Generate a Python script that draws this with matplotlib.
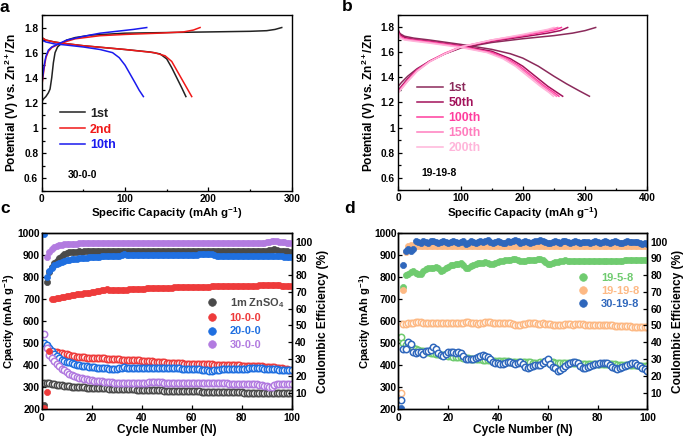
import numpy as np
import matplotlib
matplotlib.use("Agg")
import matplotlib.pyplot as plt
from matplotlib.ticker import MultipleLocator, FuncFormatter

plt.rcParams["font.family"] = ["Liberation Sans", "DejaVu Sans"]
plt.rcParams["font.weight"] = "bold"
plt.rcParams["axes.labelweight"] = "bold"
plt.rcParams["mathtext.fontset"] = "custom"
plt.rcParams["mathtext.rm"] = "Liberation Sans:bold"
plt.rcParams["mathtext.bf"] = "Liberation Sans:bold"
plt.rcParams["mathtext.it"] = "Liberation Sans:bold:italic"

# ---------------- panel a : 30-0-0 charge / discharge ----------------
a_labels = ["1st", "2nd", "10th"]
a_colors = ["#222222", "#f01818", "#1a1aee"]
a_chg_x = [
    [0, 2, 5, 8, 10, 12, 14, 16, 19, 23, 30, 40, 60, 100, 150, 200, 250, 270, 280, 288],
    [0, 1, 3, 5, 8, 12, 18, 25, 40, 70, 100, 140, 170, 182, 190],
    [0, 1, 3, 5, 8, 12, 20, 30, 50, 70, 90, 110, 126],
]
a_chg_y = [
    [1.21, 1.23, 1.25, 1.28, 1.31, 1.40, 1.52, 1.60, 1.645, 1.67, 1.70, 1.72, 1.74, 1.755, 1.76, 1.765, 1.77, 1.775, 1.785, 1.80],
    [1.33, 1.38, 1.48, 1.56, 1.61, 1.64, 1.66, 1.68, 1.71, 1.735, 1.745, 1.755, 1.765, 1.78, 1.80],
    [1.33, 1.40, 1.50, 1.57, 1.62, 1.645, 1.67, 1.70, 1.73, 1.755, 1.77, 1.785, 1.80],
]
a_dis_x = [
    [0, 5, 15, 25, 50, 100, 130, 142, 150, 156, 162, 168, 173],
    [0, 5, 15, 25, 50, 100, 135, 148, 156, 162, 168, 174, 180],
    [0, 5, 15, 30, 50, 70, 85, 93, 100, 106, 112, 117, 122],
]
a_dis_y = [
    [1.72, 1.70, 1.685, 1.675, 1.655, 1.625, 1.605, 1.59, 1.55, 1.48, 1.40, 1.32, 1.25],
    [1.72, 1.70, 1.685, 1.675, 1.655, 1.625, 1.60, 1.575, 1.53, 1.46, 1.39, 1.32, 1.25],
    [1.70, 1.685, 1.67, 1.66, 1.645, 1.625, 1.60, 1.56, 1.50, 1.43, 1.36, 1.30, 1.25],
]

# ---------------- panel b : 19-19-8 charge / discharge ----------------
b_labels = ["1st", "50th", "100th", "150th", "200th"]
b_colors = ["#8b2a5b", "#a3125b", "#ff3d9e", "#ff7dbe", "#ffb5da"]
b_chg_x = [
    [0, 5, 15, 30, 50, 75, 100, 150, 200, 250, 280, 300, 317],
    [0, 5, 15, 30, 50, 75, 100, 150, 200, 240, 260, 272],
    [0, 5, 15, 30, 50, 75, 100, 150, 200, 230, 250, 262],
    [0, 5, 15, 30, 50, 75, 100, 150, 200, 225, 245, 256],
    [0, 5, 15, 30, 50, 75, 100, 150, 200, 220, 240, 250],
]
b_chg_y = [
    [1.33, 1.36, 1.41, 1.47, 1.53, 1.59, 1.635, 1.68, 1.71, 1.735, 1.755, 1.775, 1.80],
    [1.30, 1.33, 1.39, 1.46, 1.53, 1.59, 1.64, 1.69, 1.725, 1.755, 1.775, 1.80],
    [1.29, 1.32, 1.38, 1.46, 1.53, 1.595, 1.645, 1.695, 1.735, 1.76, 1.78, 1.80],
    [1.28, 1.31, 1.37, 1.45, 1.525, 1.59, 1.645, 1.70, 1.74, 1.765, 1.785, 1.80],
    [1.28, 1.31, 1.37, 1.45, 1.525, 1.59, 1.645, 1.70, 1.745, 1.765, 1.785, 1.80],
]
b_dis_x = [
    [0, 3, 10, 25, 50, 100, 150, 180, 200, 225, 250, 270, 290, 307],
    [0, 3, 10, 25, 50, 100, 150, 180, 200, 220, 240, 255, 264],
    [0, 3, 10, 25, 50, 100, 150, 175, 195, 215, 235, 250, 258],
    [0, 3, 10, 25, 50, 100, 145, 172, 192, 212, 232, 246, 254],
    [0, 3, 10, 25, 50, 100, 142, 168, 188, 208, 228, 242, 249],
]
b_dis_y = [
    [1.77, 1.75, 1.73, 1.715, 1.70, 1.665, 1.625, 1.59, 1.555, 1.49, 1.41, 1.35, 1.295, 1.25],
    [1.78, 1.74, 1.72, 1.705, 1.69, 1.655, 1.61, 1.55, 1.49, 1.41, 1.33, 1.28, 1.25],
    [1.76, 1.73, 1.71, 1.70, 1.685, 1.65, 1.60, 1.55, 1.49, 1.41, 1.33, 1.28, 1.25],
    [1.75, 1.72, 1.705, 1.695, 1.68, 1.645, 1.60, 1.55, 1.49, 1.41, 1.33, 1.28, 1.25],
    [1.74, 1.715, 1.70, 1.69, 1.675, 1.64, 1.60, 1.55, 1.49, 1.41, 1.33, 1.28, 1.25],
]

# ---------------- panel c : cycling, ZnSO4 / x-0-0 ----------------
cycles = np.arange(1, 101)
nan = np.nan
c_labels = ["1m ZnSO$_4$", "10-0-0", "20-0-0", "30-0-0"]
c_colors = ["#4a4a4a", "#ee3b3b", "#1f6fe0", "#b27be0"]
c_cap = [
    [318, 318, 317, 315, 313, 311, 310, 308, 306, 305,
     304, 303, 302, 301, 300, 300, 299, 298, 298, 297,
     297, 296, 296, 295, 295, 295, 294, 294, 293, 293,
     292, 292, 291, 291, 290, 290, 290, 289, 289, 288,
     288, 288, 287, 287, 287, 286, 286, 286, 285, 285,
     285, 284, 284, 284, 283, 283, 283, 282, 282, 282,
     281, 281, 281, 280, 280, 280, 280, 279, 279, 279,
     279, 278, 278, 278, 278, 277, 277, 277, 277, 277,
     276, 276, 276, 276, 276, 275, 275, 275, 275, 275,
     275, 274, 274, 274, 274, 274, 274, 273, 273, 273],
    [nan, nan, nan, 462, 461, 459, 457, 454, 452, 449,
     446, 443, 441, 439, 437, 436, 435, 434, 434, 433,
     433, 432, 432, 431, 431, 430, 429, 428, 427, 426,
     426, 425, 425, 424, 424, 423, 423, 422, 422, 421,
     420, 419, 418, 417, 416, 415, 414, 413, 412, 411,
     411, 410, 410, 409, 409, 408, 407, 407, 406, 406,
     405, 405, 405, 404, 404, 404, 403, 403, 402, 402,
     402, 401, 401, 401, 400, 400, 400, 399, 399, 398,
     398, 397, 397, 396, 396, 395, 394, 394, 393, 393,
     392, 391, 390, 389, 388, 386, 384, 382, 380, 378],
    [499, 490, 478, 466, 452, 440, 431, 425, 420, 416,
     412, 408, 404, 401, 399, 397, 395, 394, 392, 391,
     390, 389, 388, 387, 386, 385, 384, 383, 382, 382,
     385, 389, 390, 388, 387, 386, 386, 386, 386, 386,
     386, 385, 386, 386, 385, 386, 386, 385, 385, 386,
     385, 385, 386, 385, 385, 384, 384, 384, 383, 383,
     382, 382, 381, 380, 378, 376, 375, 375, 377, 379,
     380, 381, 381, 382, 382, 382, 383, 383, 383, 384,
     384, 384, 385, 385, 386, 386, 385, 385, 384, 384,
     383, 383, 382, 381, 380, 380, 379, 379, 378, 378],
    [541, 476, 446, 432, 418, 405, 394, 384, 376, 368,
     362, 356, 351, 347, 343, 340, 337, 335, 333, 331,
     330, 328, 327, 326, 325, 324, 323, 322, 321, 321,
     320, 320, 319, 319, 319, 318, 318, 318, 318, 317,
     318, 320, 323, 325, 324, 323, 322, 322, 321, 321,
     321, 320, 320, 320, 320, 319, 319, 319, 319, 318,
     318, 318, 318, 318, 318, 318, 317, 317, 317, 317,
     317, 317, 317, 317, 316, 316, 316, 316, 316, 316,
     316, 315, 315, 315, 314, 313, 312, 310, 307, 304,
     302, 303, 310, 313, 314, 314, 315, 315, 315, 315],
]
c_ce = [
    [2.5, 76, 82, 85, 87, 88.5, 90, 91.5, 92.5, 93,
     93.5, 93.8, 94, 94, 94.1, 94, 94.2, 94.1, 94.2, 94.3,
     94.2, 94.3, 94.2, 94.4, 94.3, 94.2, 94.3, 94.4, 94.3, 94.2,
     94.3, 94.4, 94.3, 94.2, 94.3, 94.4, 94.3, 94.2, 94.3, 94.3,
     94.2, 94.3, 94.4, 94.3, 94.2, 94.3, 94.3, 94.4, 94.3, 94.2,
     94.3, 94.3, 94.2, 94.3, 94.4, 94.3, 94.2, 94.3, 94.3, 94.2,
     94.1, 94.2, 94.3, 94.2, 94.1, 94.2, 94.3, 94.2, 94.1, 94.2,
     94.3, 94.2, 94.1, 94.2, 94.2, 94.3, 94.2, 94.1, 94.2, 94.2,
     94.3, 94.2, 94.1, 94.2, 94.3, 94.2, 94.2, 94.3, 94.4, 94.6,
     94.8, 95.2, 95.4, 95.0, 94.6, 94.4, 94.2, 94.1, 94.0, 94.0],
    [0.9, 10.5, 35, 65.5, 66, 66.3, 66.6, 66.9, 67.2, 67.5,
     67.8, 68, 68.3, 68.5, 68.8, 69, 69.2, 69.4, 69.6, 69.8,
     70, 70.3, 70.6, 71, 71.3, 71.5, 71.4, 71.2, 71, 71,
     71.1, 71.2, 71.3, 71.4, 71.5, 71.6, 71.7, 71.8, 71.9, 72,
     72, 72.1, 72.1, 72.2, 72.3, 72.3, 72.4, 72.4, 72.5, 72.5,
     72.6, 72.6, 72.7, 72.7, 72.8, 72.8, 72.8, 72.9, 72.9, 73,
     73, 73, 73.1, 73.1, 73.2, 73.2, 73.2, 73.3, 73.3, 73.3,
     73.4, 73.4, 73.4, 73.5, 73.5, 73.5, 73.6, 73.6, 73.6, 73.7,
     73.7, 73.7, 73.8, 73.8, 73.8, 73.8, 73.9, 73.9, 73.9, 74,
     74, 74, 74, 73.9, 73.9, 73.8, 73.8, 73.7, 73.7, 73.6],
    [104.5, 79, 82.5, 84.5, 86, 86.8, 87.5, 88, 88.4, 88.8,
     89.1, 89.4, 89.6, 89.8, 90, 90.2, 90.4, 90.5, 90.7, 90.8,
     90.9, 91, 91.1, 91.2, 91.3, 91.3, 91.4, 91.5, 91.5, 91.6,
     91.7, 92, 92.8, 92.2, 91.8, 91.8, 91.9, 91.9, 92, 92,
     92, 92.1, 92.1, 92, 92.1, 92.2, 92.1, 92.2, 92.2, 92.1,
     92.2, 92.2, 92.1, 92.2, 92.3, 92.2, 92.2, 92.3, 92.2, 92.2,
     92.3, 92.3, 92.4, 92.4, 92.5, 92.6, 92.8, 92.4, 91.8, 91.5,
     91.5, 91.6, 91.6, 91.5, 91.6, 91.6, 91.5, 91.6, 91.5, 91.5,
     91.5, 91.5, 91.4, 91.5, 91.4, 91.4, 91.5, 91.4, 91.3, 91.3,
     91.4, 91.3, 91.3, 91.2, 91.2, 91.3, 91.1, 91.1, 91.0, 91.0],
    [nan, 91, 94, 95.5, 96.5, 97.2, 97.7, 98, 98.3, 98.5,
     98.6, 98.7, 98.8, 98.8, 98.9, 98.9, 99, 98.9, 99, 99,
     99.1, 99, 99, 99.1, 99.1, 99, 99.1, 99.2, 99.1, 99,
     99.1, 99.1, 99.2, 99.1, 99, 99.1, 99.2, 99.1, 99.2, 99.3,
     99.2, 99.1, 99.2, 99.4, 99.3, 99.2, 99.1, 99.2, 99.2, 99.1,
     99.2, 99.1, 99, 99.1, 99.2, 99.1, 99.1, 99.2, 99.1, 99,
     99.1, 99.2, 99.1, 99.1, 99, 99.1, 99.2, 99.1, 99.2, 99.1,
     99.2, 99.1, 99.1, 99.2, 99.3, 99.2, 99.1, 99.2, 99.2, 99.3,
     99.2, 99.3, 99.2, 99.1, 99.2, 99.3, 99.4, 99.3, 99.4, 99.6,
     99.8, 100.2, 100.5, 100.2, 99.8, 99.6, 99.5, 99.4, 99.4, 99.3],
]

# ---------------- panel d : cycling, x-y-8 ----------------
d_labels = ["19-5-8", "19-19-8", "30-19-8"]
d_colors = ["#6fcb6f", "#fdb984", "#2f67bc"]
d_cap = [
    [528, 500, 492, 486, 481, 476, 472, 469, 466, 463,
     461, 458, 456, 454, 452, 450, 448, 446, 444, 442,
     441, 439, 438, 436, 435, 434, 432, 431, 430, 429,
     428, 427, 426, 425, 424, 423, 422, 421, 421, 420,
     419, 418, 418, 417, 416, 416, 415, 414, 414, 413,
     413, 412, 412, 411, 411, 411, 412, 413, 414, 414,
     413, 412, 411, 410, 410, 410, 409, 409, 409, 408,
     408, 408, 407, 407, 407, 406, 406, 406, 405, 405,
     405, 404, 404, 404, 403, 403, 403, 402, 402, 402,
     401, 401, 400, 400, 399, 399, 398, 397, 396, 395],
    [275, 585, 588, 590, 591, 592, 594, 595, 594, 593,
     592, 590, 589, 590, 592, 593, 592, 590, 589, 590,
     592, 593, 593, 591, 590, 592, 594, 595, 593, 591,
     589, 588, 590, 592, 594, 595, 594, 592, 590, 589,
     590, 592, 593, 592, 590, 587, 584, 582, 583, 586,
     588, 590, 591, 590, 589, 588, 588, 589, 588, 586,
     585, 584, 582, 580, 581, 583, 585, 586, 585, 584,
     585, 586, 586, 585, 584, 583, 583, 584, 584, 583,
     582, 581, 580, 580, 581, 580, 579, 578, 578, 577,
     577, 576, 576, 575, 575, 574, 574, 574, 573, 573],
    [242, 472, 474, 506, 495, 461, 453, 458, 461, 449,
     466, 463, 470, 483, 472, 455, 448, 440, 452, 461,
     460, 461, 456, 461, 453, 442, 430, 428, 427, 427,
     432, 438, 443, 446, 441, 438, 428, 415, 410, 408,
     406, 407, 408, 412, 415, 409, 404, 408, 415, 404,
     393, 389, 392, 398, 400, 400, 402, 408, 420, 427,
     404, 392, 385, 372, 378, 388, 395, 405, 411, 413,
     415, 408, 398, 386, 388, 393, 396, 400, 403, 406,
     408, 411, 410, 408, 400, 393, 385, 381, 387, 393,
     397, 400, 405, 411, 408, 402, 395, 388, 382, 375],
]
d_ce = [
    [nan, 73, 80, 80.5, 82, 82.3, 81, 80.5, 80.8, 82.5,
     83.5, 84, 84.3, 84.5, 84.8, 84, 82.5, 83, 84, 85,
     85.8, 86.2, 86.5, 86.8, 87, 86, 84.5, 84.5, 85.5, 86.3,
     86.8, 87, 87.3, 87.5, 87.6, 87, 86.5, 86.8, 87.5, 88,
     88.4, 88.6, 88.8, 89, 89.2, 89.4, 89.6, 89, 88.5, 88.3,
     88.5, 88.8, 89, 89.2, 89.3, 89.5, 89.6, 89, 87.8, 86.8,
     86.5, 87, 87.6, 88, 88.3, 88.6, 88.8, 88.7, 88.5, 88.4,
     88.3, 88.2, 88.2, 88.2, 88.3, 88.3, 88.4, 88.4, 88.4, 88.5,
     88.5, 88.5, 88.6, 88.6, 88.6, 88.6, 88.7, 88.7, 88.7, 88.7,
     88.8, 88.8, 88.8, 88.9, 88.9, 88.9, 89, 89, 89, 89],
    [nan, 71, 93.5, 97.5, 97.8, 97.3, 97.2, 97.4, 97.3, 97.2,
     97.4, 97.3, 97.1, 97.3, 97.4, 97.2, 97.3, 97.5, 97.3, 97.2,
     97.3, 97.4, 97.2, 97.1, 97.3, 97.4, 97.3, 97.2, 97.3, 97.5,
     97.4, 97.2, 97.3, 97.4, 97.3, 97.2, 97.1, 97.3, 97.4, 97.3,
     97.2, 97.3, 97.5, 97.4, 97.2, 97.3, 97.4, 97.3, 97.1, 97.2,
     97.3, 97.4, 97.3, 97.2, 97.3, 97.5, 97.4, 97.3, 97.2, 97.1,
     97.3, 97.4, 97.3, 97.2, 97.3, 97.4, 97.3, 97.2, 97.3, 97.4,
     97.3, 97.2, 97.1, 97.3, 97.4, 97.3, 97.2, 97.3, 97.4, 97.3,
     97.2, 97.3, 97.4, 97.3, 97.2, 97.1, 97.3, 97.4, 97.3, 97.2,
     97.3, 97.4, 97.3, 97.2, 97.3, 97.2, 97.1, 97.2, 97.3, 97.2],
    [0.8, 86, 94.5, 95.5, 94.5, 95.5, 100.3, 99.8, 99.4, 100.2,
     99.6, 99.2, 100.1, 100.4, 99.5, 99.0, 99.7, 100.2, 99.8, 99.3,
     100, 100.5, 99.8, 99.2, 99.6, 100.2, 98.8, 99.3, 100.1, 99.7,
     99.1, 99.6, 100.3, 99.8, 100.6, 100.9, 99.7, 99.2, 99.5, 100.1,
     99.6, 99.1, 99.4, 100.3, 99.9, 100.5, 101, 100.2, 99.4, 99.6,
     100.1, 99.5, 99.0, 99.8, 100.4, 100.2, 100.8, 100.5, 99.6, 98.9,
     99.2, 99.9, 100.3, 99.7, 99.3, 100.6, 100.1, 99.5, 99.3, 99.8,
     100.1, 99.6, 99.2, 99.5, 100, 99.7, 99.3, 99.9, 100.2, 99.8,
     99.4, 99.7, 100.1, 99.8, 99.3, 99.6, 100.2, 99.9, 99.4, 99.1,
     99.7, 100.3, 100, 99.5, 99.8, 99.9, 99.4, 98.8, 99.3, 98.6],
]

fig = plt.figure(figsize=(6.85, 4.37), dpi=100)
ax_a = fig.add_axes([0.0609, 0.5636, 0.365, 0.4021])
ax_b = fig.add_axes([0.5815, 0.5652, 0.3635, 0.4005])
ax_c = fig.add_axes([0.0609, 0.0634, 0.365, 0.4041])
ax_d = fig.add_axes([0.5815, 0.0634, 0.3635, 0.4041])

fmt_g = FuncFormatter(lambda v, _: f"{v:g}")


def style(ax, size):
    for s in ax.spines.values():
        s.set_linewidth(1.0)
    ax.tick_params(which="both", direction="in", labelsize=size, width=0.9,
                   top=False, right=False, pad=2.5)
    ax.tick_params(which="major", length=3)
    ax.tick_params(which="minor", length=1.8)


# --- a / b : voltage profiles
for ax, xs1, ys1, xs2, ys2, cols, labs, xmax in [
    (ax_a, a_chg_x, a_chg_y, a_dis_x, a_dis_y, a_colors, a_labels, 300),
    (ax_b, b_chg_x, b_chg_y, b_dis_x, b_dis_y, b_colors, b_labels, 400),
]:
    for i in range(len(labs)):
        ax.plot(xs1[i], ys1[i], color=cols[i], lw=1.1, label=labs[i])
        ax.plot(xs2[i], ys2[i], color=cols[i], lw=1.1)
    ax.set_xlim(0, xmax)
    ax.set_ylim(0.5, 1.9)
    ax.xaxis.set_major_locator(MultipleLocator(100))
    ax.xaxis.set_minor_locator(MultipleLocator(50))
    ax.yaxis.set_minor_locator(MultipleLocator(0.1))
    ax.set_yticks([0.6, 0.8, 1.0, 1.2, 1.4, 1.6, 1.8])
    ax.yaxis.set_major_formatter(fmt_g)
    style(ax, 7.3)
    ax.set_xlabel("Specific Capacity (mAh g$^{-1}$)", fontsize=8.2, labelpad=1)
    ax.set_ylabel("Potential (V) vs. Zn$^{2+}$/Zn", fontsize=8.6, labelpad=2)

ax_a.legend(loc="center left", bbox_to_anchor=(0.073, 0.348), frameon=False,
            fontsize=9, handlelength=2.0, handletextpad=0.4, labelspacing=0.3,
            borderpad=0, borderaxespad=0, labelcolor="linecolor")
ax_b.legend(loc="center left", bbox_to_anchor=(0.076, 0.411), frameon=False,
            fontsize=8.8, handlelength=2.1, handletextpad=0.45, labelspacing=0.25,
            borderpad=0, borderaxespad=0, labelcolor="linecolor")
ax_a.text(0.105, 0.09, "30-0-0", transform=ax_a.transAxes, fontsize=7.4,
          va="center", ha="left")
ax_b.text(0.094, 0.099, "19-19-8", transform=ax_b.transAxes, fontsize=7.4,
          va="center", ha="left")

# --- c / d : cycling
for ax, caps, ces, cols, labs, leg_xy, leg_fs in [
    (ax_c, c_cap, c_ce, c_colors, c_labels, (0.664, 0.489), 7.9),
    (ax_d, d_cap, d_ce, d_colors, d_labels, (0.7245, 0.67), 8.0),
]:
    ax2 = ax.twinx()
    handles = []
    for i in range(len(labs)):
        ax.plot(cycles, caps[i], ls="none", marker="o", ms=4.6, mfc="white",
                mec=cols[i], mew=1.1)
        h, = ax2.plot(cycles, ces[i], ls="none", marker="o", ms=4.4,
                      mfc=cols[i], mec=cols[i], mew=0.5, label=labs[i])
        handles.append(h)
    ax.set_xlim(0, 100)
    ax.set_ylim(200, 1000)
    ax2.set_ylim(0, 105.3)
    ax.xaxis.set_major_locator(MultipleLocator(20))
    ax.yaxis.set_major_locator(MultipleLocator(100))
    ax2.set_yticks(np.arange(10, 101, 10))
    style(ax, 7.4)
    style(ax2, 7.5)
    ax.tick_params(axis="y", pad=1.2)
    ax2.tick_params(which="both", right=True, left=False, labelright=True, labelleft=False)
    ax.set_xlabel("Cycle Number (N)", fontsize=8.6, labelpad=1)
    ax.set_ylabel("Cpacity (mAh g$^{-1}$)", fontsize=8.0)
    ax.yaxis.set_label_coords(-0.1, 0.5)
    ax2.set_ylabel("Coulombic Efficiency (%)", fontsize=8.6, labelpad=3)
    ax2.legend(handles=handles, loc="center left", bbox_to_anchor=leg_xy,
               frameon=False, fontsize=leg_fs, handlelength=0.8,
               handletextpad=1.2, labelspacing=0.3, borderpad=0,
               borderaxespad=0, markerscale=1.25, labelcolor=cols)

# panel letters
fig.text(0.0, 0.982, "a", fontsize=12.5, va="center", ha="left")
fig.text(0.499, 0.984, "b", fontsize=12.5, va="center", ha="left")
fig.text(0.0, 0.524, "c", fontsize=12.5, va="center", ha="left")
fig.text(0.503, 0.524, "d", fontsize=12.5, va="center", ha="left")

fig.savefig("out.png", dpi=100)
